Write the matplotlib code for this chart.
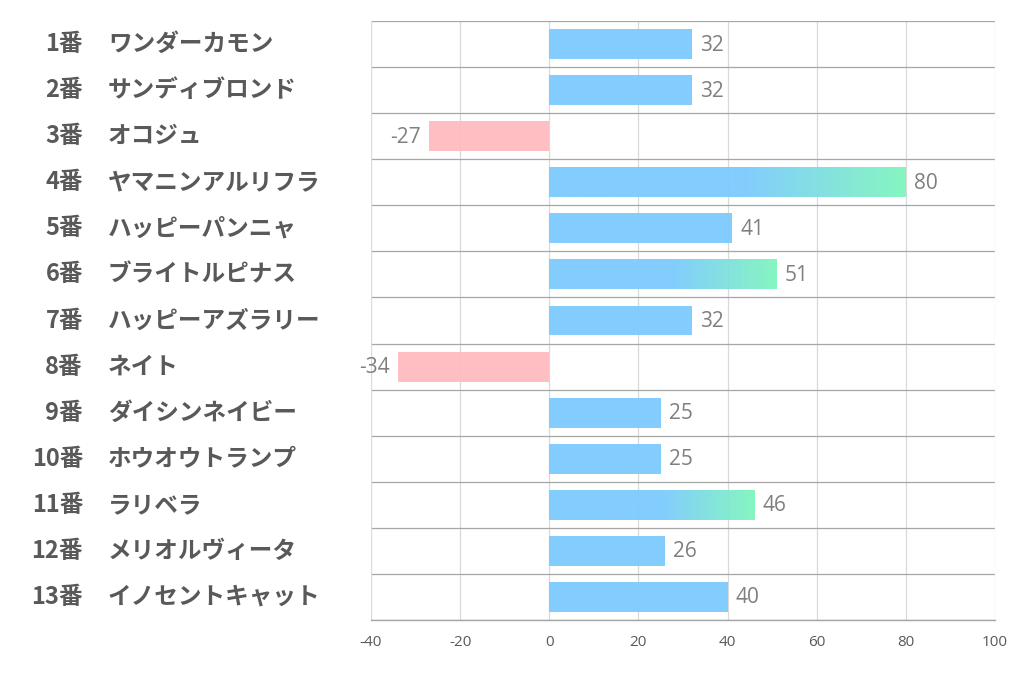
import matplotlib
matplotlib.use("Agg")
import matplotlib.pyplot as plt
import numpy as np
from matplotlib.colors import LinearSegmentedColormap
from matplotlib.patches import Rectangle
from matplotlib.transforms import offset_copy

numbers = ["1番", "2番", "3番", "4番", "5番", "6番", "7番", "8番", "9番", "10番", "11番", "12番", "13番"]
names = ["ワンダーカモン", "サンディブロンド", "オコジュ", "ヤマニンアルリフラ", "ハッピーパンニャ",
         "ブライトルピナス", "ハッピーアズラリー", "ネイト", "ダイシンネイビー", "ホウオウトランプ",
         "ラリベラ", "メリオルヴィータ", "イノセントキャット"]
values = [32, 32, -27, 80, 41, 51, 32, -34, 25, 25, 46, 26, 40]
gradient_rows = [3, 5, 10]  # bars drawn with blue-to-green gradient
xticks = [-40, -20, 0, 20, 40, 60, 80, 100]

BLUE = "#7ccbfe"
GREEN = "#7ff6bd"
PINK = "#ffbcbf"
LABEL_C = "#595959"
VALUE_C = "#7f7f7f"

fig = plt.figure(figsize=(10.22, 6.78), dpi=100)
ax = fig.add_axes([371/1022, 1-620/678, 624/1022, 599/678])

n = len(values)
ax.set_xlim(-40, 100)
ax.set_ylim(n - 0.5, -0.5)

# grid
for x in xticks[1:-1]:
    ax.axvline(x, color="#d9d9d9", lw=0.9, zorder=0)
for b in np.arange(-0.5, n, 1.0):
    ax.axhline(b, color="#a6a6a6", lw=0.9, zorder=0)
for s in ["top", "right", "left"]:
    ax.spines[s].set_visible(False)
ax.axvline(-40, color="#d9d9d9", lw=0.9, zorder=0)
ax.axvline(100, color="#d9d9d9", lw=0.9, zorder=0)
ax.spines["bottom"].set_color("#a6a6a6")
ax.spines["bottom"].set_linewidth(1.0)

bh = 0.65
cmap = LinearSegmentedColormap.from_list("bg", [(0, BLUE), (0.55, BLUE), (1.0, GREEN)])
vfont = ["Open Sans", "DejaVu Sans"]
for i, v in enumerate(values):
    color = BLUE if v >= 0 else PINK
    if i in gradient_rows:
        rect = Rectangle((0, i - bh/2), v, bh, facecolor="none", edgecolor="none")
        ax.add_patch(rect)
        grad = np.linspace(0, 1, 256).reshape(1, -1)
        im = ax.imshow(grad, cmap=cmap, aspect="auto",
                       extent=(0, v, i + bh/2, i - bh/2), alpha=0.95, zorder=2)
        im.set_clip_path(rect)
    else:
        ax.barh(i, v, height=bh, color=color, alpha=0.95, zorder=2)
    if v >= 0:
        t = offset_copy(ax.transData, fig=fig, x=8, y=-1, units="dots")
        ax.text(v, i, str(v), transform=t, ha="left", va="center", color=VALUE_C,
                fontsize=15, family=vfont)
    else:
        t = offset_copy(ax.transData, fig=fig, x=-8, y=-1, units="dots")
        ax.text(v, i, str(v), transform=t, ha="right", va="center", color=VALUE_C,
                fontsize=15, family=vfont)

ax.set_xlim(-40, 100)
ax.set_ylim(n - 0.5, -0.5)
ax.set_xticks(xticks)
ax.set_xticklabels([str(x) for x in xticks], color=LABEL_C, fontsize=11, family=vfont)
ax.tick_params(axis="x", length=0, pad=11)
ax.set_yticks([])

# row labels
jfont = ["Noto Sans CJK JP", "DejaVu Sans"]
for i in range(n):
    yfig = ax.transData.transform((0, i))[1]
    fig.text(83/1022, yfig/678, numbers[i], ha="right", va="center", color=LABEL_C,
             fontsize=17, fontweight="bold", family=jfont)
    fig.text(108/1022, yfig/678, names[i], ha="left", va="center", color=LABEL_C,
             fontsize=17, fontweight="bold", family=jfont)

fig.savefig("out.png", dpi=100, facecolor="white")
